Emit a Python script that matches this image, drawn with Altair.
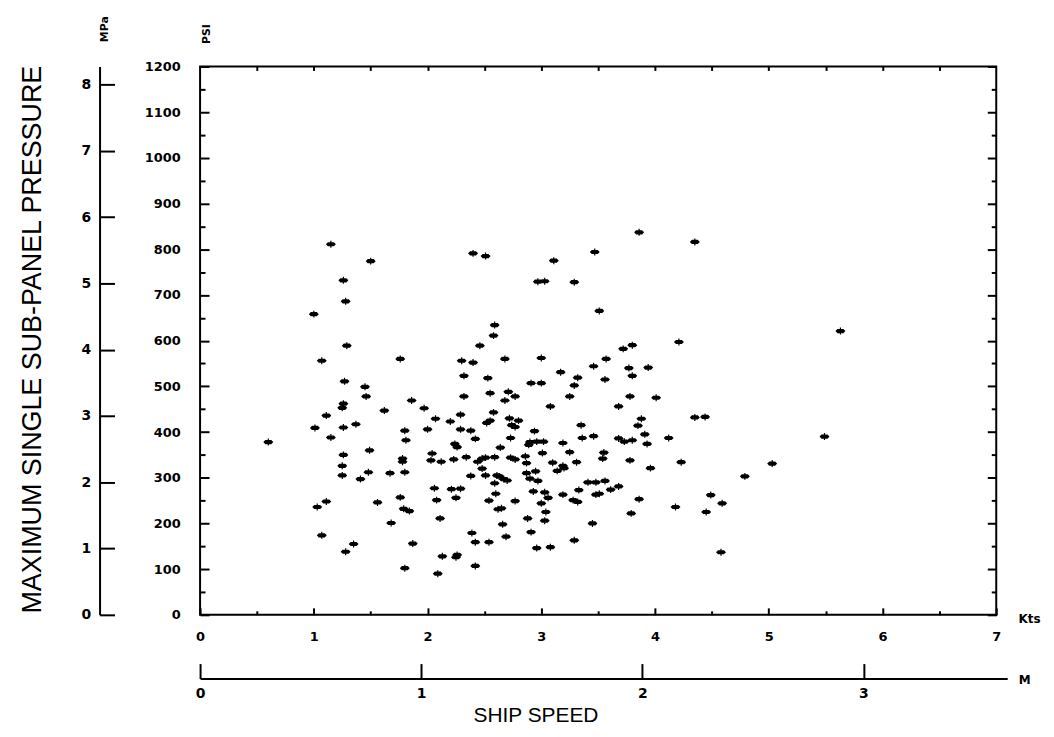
import altair as alt
import pandas as pd

# Ship speed (knots) and maximum single sub-panel pressure (psi)
speed_kts = [
    1.15, 1.50, 2.40, 2.51, 1.26, 1.28, 1.00, 2.59, 2.58, 2.46,
    1.29, 1.07, 1.76, 2.30, 2.40, 2.32, 2.53, 1.27, 1.45, 2.55,
    1.46, 2.32, 1.86, 1.26, 1.25, 1.62, 1.97, 1.11, 2.29, 2.58,
    2.07, 1.01, 1.26, 1.37, 1.80, 2.20, 2.00, 2.29, 2.38, 2.52,
    2.55, 0.60, 1.15, 1.81, 2.42, 2.24, 2.26, 1.49, 1.26, 2.04,
    1.78, 1.78, 2.03, 2.12, 2.23, 2.34, 2.44, 2.48, 2.51, 2.59,
    1.25, 2.48, 1.25, 1.48, 1.67, 1.80, 1.41, 2.38, 2.51, 2.61,
    2.06, 2.21, 2.29, 2.25, 2.59, 2.60, 1.76, 2.08, 2.54, 1.03,
    1.11, 1.56, 1.79, 1.84, 2.62, 2.11, 1.68, 1.07, 2.39, 1.35,
    1.87, 2.42, 2.54, 1.28, 2.13, 2.26, 2.25, 1.80, 2.09, 2.42,
    3.86, 4.35, 3.47, 3.11, 2.97, 3.03, 3.29, 3.51, 4.21, 3.72,
    3.80, 2.68, 3.00, 3.57, 3.46, 3.77, 3.94, 3.80, 3.17, 3.32,
    3.56, 2.91, 3.00, 3.29, 2.71, 2.77, 2.68, 3.25, 3.78, 4.01,
    3.08, 3.68, 2.72, 3.88, 4.35, 4.44, 2.80, 3.85, 2.74, 2.77,
    2.94, 3.35, 3.91, 2.73, 3.36, 3.46, 3.68, 3.73, 3.80, 3.93,
    4.12, 2.90, 2.96, 3.02, 2.89, 3.19, 2.64, 3.01, 3.25, 3.55,
    3.54, 2.73, 2.77, 2.86, 2.87, 3.10, 3.19, 3.20, 3.31, 3.78,
    4.23, 3.96, 3.14, 2.63, 2.67, 2.70, 2.87, 2.95, 2.90, 2.97,
    3.41, 3.48, 3.56, 3.68, 3.61, 3.33, 2.93, 3.03, 3.06, 3.19,
    3.48, 3.51, 2.77, 3.28, 3.32, 3.86, 4.49, 4.59, 3.00, 2.65,
    3.04, 3.79, 4.18, 4.45, 2.88, 3.03, 2.66, 3.45, 2.91, 2.69,
    3.29, 2.96, 3.08, 4.58, 5.03, 4.79, 5.63, 5.49,
]
pressure_psi = [
    811, 774, 791, 785, 732, 686, 658, 634, 611, 589,
    589, 556, 560, 556, 552, 523, 518, 511, 499, 485,
    478, 478, 469, 462, 453, 447, 452, 436, 438, 443,
    429, 409, 410, 417, 403, 423, 406, 406, 403, 420,
    425, 378, 388, 382, 385, 374, 367, 360, 350, 353,
    342, 335, 338, 335, 340, 345, 335, 342, 344, 345,
    326, 320, 305, 312, 310, 312, 297, 304, 305, 305,
    277, 275, 276, 256, 288, 265, 257, 251, 250, 236,
    248, 246, 232, 227, 231, 211, 201, 174, 179, 155,
    156, 159, 159, 138, 128, 131, 126, 102, 90, 107,
    837, 816, 794, 775, 729, 730, 728, 665, 597, 582,
    590, 560, 562, 560, 544, 540, 541, 523, 531, 519,
    515, 507, 507, 502, 488, 478, 469, 478, 478, 475,
    456, 456, 430, 429, 432, 433, 425, 414, 415, 411,
    402, 415, 395, 387, 387, 391, 386, 379, 382, 374,
    387, 378, 379, 379, 372, 376, 366, 354, 356, 355,
    342, 344, 340, 347, 332, 333, 326, 321, 334, 338,
    334, 321, 315, 303, 297, 294, 310, 314, 298, 293,
    290, 290, 293, 281, 274, 273, 270, 268, 256, 263,
    263, 265, 249, 251, 247, 253, 262, 244, 244, 233,
    225, 222, 236, 225, 211, 206, 198, 200, 181, 171,
    163, 146, 148, 137, 331, 303, 621, 390,
]

psi_major = [0, 100, 200, 300, 400, 500, 600, 700, 800, 900, 1000, 1100, 1200]
psi_minor = [50, 150, 250, 350, 450, 550, 650, 750, 850, 950, 1050, 1150]
kts_major = [0, 1, 2, 3, 4, 5, 6, 7]
kts_minor = [0.5, 1.5, 2.5, 3.5, 4.5, 5.5, 6.5]
kts_half = [0.5, 1, 1.5, 2, 2.5, 3, 3.5, 4, 4.5, 5, 5.5, 6, 6.5]
mpa_ticks = [0, 1, 2, 3, 4, 5, 6, 7, 8]
ms_ticks = [0, 1, 2, 3]

PSI_TO_MPA = 0.00689476
KT_TO_MS = 0.514444

df = pd.DataFrame({"kts": speed_kts, "psi": pressure_psi})
df["mpa"] = df["psi"] * PSI_TO_MPA
df["ms"] = df["kts"] * KT_TO_MS

W, H = 800, 551
LABEL_FONT = "DejaVu Sans"
TITLE_FONT = "Liberation Sans"

kts_scale = alt.Scale(domain=[0, 7], nice=False, zero=False)
psi_scale = alt.Scale(domain=[0, 1200], nice=False)
mpa_scale = alt.Scale(domain=[0, 1200 * PSI_TO_MPA], nice=False)
ms_scale = alt.Scale(domain=[0, 3.65], range=[0, 811], nice=False)

MARKER = ("M -1 0 L -0.6 -0.42 L 0.6 -0.42 L 1 0 L 0.6 0.42 L -0.6 0.42 Z "
          "M -0.12 -0.7 L 0.12 -0.7 L 0.12 0.7 L -0.12 0.7 Z")


def tick_axis(orient, offset, values, size):
    return alt.Axis(orient=orient, offset=offset, values=values, tickSize=size,
                    tickWidth=2, tickColor="black", labels=False, domain=False,
                    grid=False, title=None)


base = alt.Chart(df)
ghost = base.mark_point(opacity=0)

points = base.mark_point(shape=MARKER, filled=True, color="black", size=100,
                         opacity=1, strokeWidth=0).encode(
    x=alt.X("kts:Q", scale=kts_scale, axis=alt.Axis(
        orient="bottom", values=kts_major, ticks=False, tickSize=0, domain=False,
        grid=False, labelPadding=22, labelBaseline="middle", labelFlush=False,
        labelFontSize=13, format="d", title="Kts", titleX=833, titleY=4,
        titleAngle=0, titleAlign="center", titleBaseline="middle",
        titleFont=LABEL_FONT, titleFontSize=12, titleFontWeight="bold")),
    y=alt.Y("psi:Q", scale=psi_scale, axis=alt.Axis(
        orient="left", values=psi_major, ticks=False, tickSize=0, domain=False,
        grid=False, labelPadding=20, labelAlign="right", labelBaseline="middle",
        labelFontSize=13, format="d", title="PSI", titleX=6, titleY=-33,
        titleAngle=270, titleAlign="center", titleBaseline="middle",
        titleFont=LABEL_FONT, titleFontSize=11, titleFontWeight="bold")),
)

# inward ticks on the plot frame
left_major = ghost.encode(y=alt.Y("psi:Q", scale=psi_scale, axis=tick_axis("right", -W, psi_major, 9)))
left_minor = ghost.encode(y=alt.Y("psi:Q", scale=psi_scale, axis=tick_axis("right", -W, psi_minor, 5)))
right_major = ghost.encode(y=alt.Y("psi:Q", scale=psi_scale, axis=tick_axis("left", -W, psi_major, 9)))
right_minor = ghost.encode(y=alt.Y("psi:Q", scale=psi_scale, axis=tick_axis("left", -W, psi_minor, 5)))
bottom_major = ghost.encode(x=alt.X("kts:Q", scale=kts_scale, axis=tick_axis("top", -H, kts_major, 7)))
bottom_minor = ghost.encode(x=alt.X("kts:Q", scale=kts_scale, axis=tick_axis("top", -H, kts_minor, 4)))
top_ticks = ghost.encode(x=alt.X("kts:Q", scale=kts_scale, axis=tick_axis("bottom", -H, kts_half, 4)))

# MPa axis (left, outside)
mpa_labels = ghost.encode(y=alt.Y("mpa:Q", scale=mpa_scale, axis=alt.Axis(
    orient="left", offset=101, values=mpa_ticks, ticks=False, tickSize=0,
    domain=True, domainColor="black", domainWidth=2, grid=False,
    labelPadding=9, labelAlign="right", labelBaseline="middle", labelFontSize=14,
    format="d", title="MPa", titleX=5, titleY=-38, titleAngle=270,
    titleAlign="center", titleBaseline="middle", titleFont=LABEL_FONT,
    titleFontSize=11, titleFontWeight="bold")))
mpa_tick_marks = ghost.encode(y=alt.Y("mpa:Q", scale=mpa_scale, axis=alt.Axis(
    orient="right", offset=-(W + 101), values=mpa_ticks, tickSize=15, tickWidth=2,
    tickColor="black", labels=False, domain=False, grid=False,
    title="MAXIMUM SINGLE SUB-PANEL PRESSURE", titleX=-67, titleY=274,
    titleAngle=270, titleAlign="center", titleBaseline="middle",
    titleFont=TITLE_FONT, titleFontSize=27, titleFontWeight="normal",
    titleLimit=1000)))

# M (m/s) axis (bottom, outside)
ms_labels = ghost.encode(x=alt.X("ms:Q", scale=ms_scale, axis=alt.Axis(
    orient="bottom", offset=64, values=ms_ticks, ticks=False, tickSize=0,
    domain=True, domainColor="black", domainWidth=2, grid=False,
    labelPadding=15, labelBaseline="middle", labelFlush=False, labelFontSize=14,
    format="d", title="SHIP SPEED", titleX=337, titleY=37, titleAngle=0,
    titleAlign="center", titleBaseline="middle", titleFont=TITLE_FONT,
    titleFontSize=21, titleFontWeight="normal")))
ms_tick_marks = ghost.encode(x=alt.X("ms:Q", scale=ms_scale, axis=alt.Axis(
    orient="top", offset=-615, values=ms_ticks, tickSize=15, tickWidth=2,
    tickColor="black", labels=False, domain=False, grid=False,
    title="M", titleX=828, titleY=1, titleAngle=0, titleAlign="center",
    titleBaseline="middle", titleFont=LABEL_FONT, titleFontSize=12,
    titleFontWeight="bold")))

chart = alt.layer(
    points, left_major, left_minor, right_major, right_minor,
    bottom_major, bottom_minor, top_ticks,
    mpa_labels, mpa_tick_marks, ms_labels, ms_tick_marks,
).resolve_scale(
    x="independent", y="independent"
).properties(
    width=W, height=H,
    autosize=alt.AutoSizeParams(type="none"),
    padding={"left": 193, "top": 57, "right": 50, "bottom": 117},
).configure_view(
    stroke="black", strokeWidth=2
).configure_axis(
    labelFont=LABEL_FONT, labelFontWeight="bold", labelColor="black",
    titleColor="black", grid=False,
)

chart.save("out.html", embed_options={"renderer": "svg", "actions": False})
